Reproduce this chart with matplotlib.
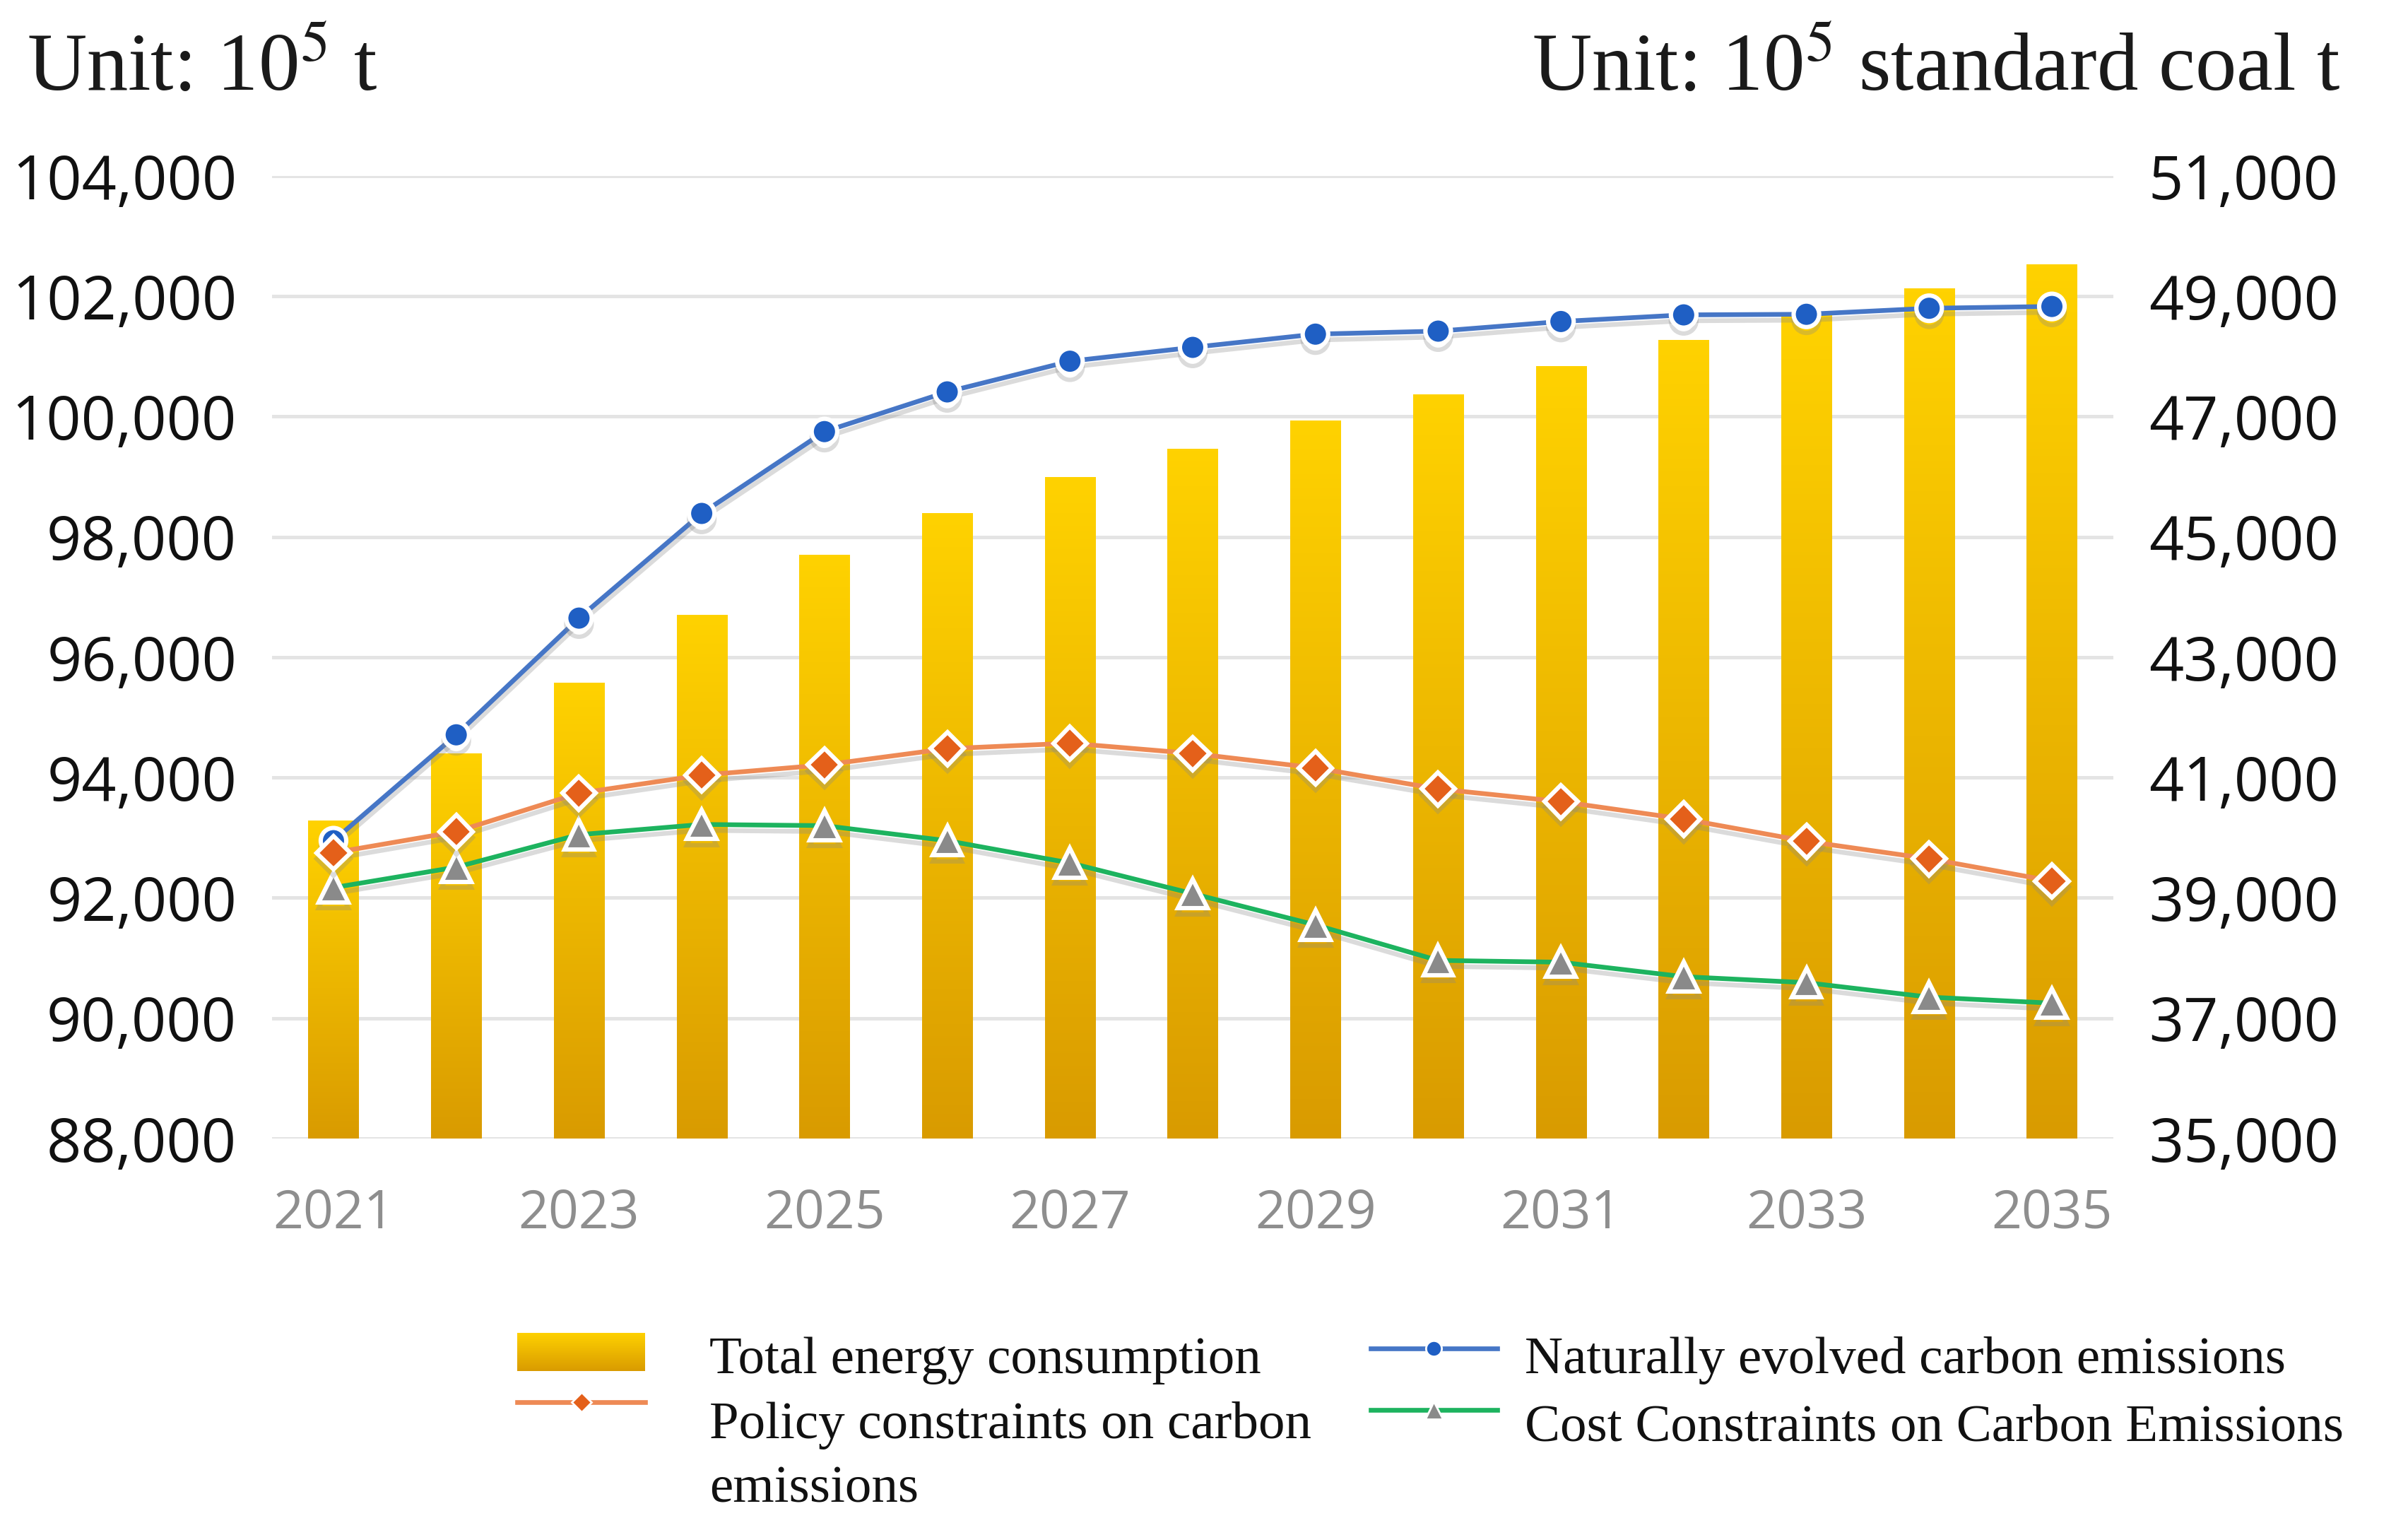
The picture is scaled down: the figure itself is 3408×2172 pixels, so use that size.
import matplotlib
matplotlib.use("Agg")
import matplotlib.pyplot as plt
import matplotlib.patheffects as pe
from matplotlib.colors import LinearSegmentedColormap
from matplotlib.lines import Line2D
import numpy as np

# data
years = list(range(2021, 2036))
energy = [40280, 41400, 42580, 43700, 44700, 45390, 45990, 46470,
          46930, 47370, 47840, 48270, 48700, 49130, 49530]      # right axis, 10^5 standard coal t
natural = [92950, 94710, 96650, 98390, 99750, 100410, 100920, 101150,
           101370, 101420, 101580, 101690, 101700, 101800, 101830]  # left axis, 10^5 t
policy = [92750, 93100, 93740, 94040, 94210, 94480, 94570, 94400,
          94160, 93810, 93600, 93310, 92940, 92650, 92280]
cost = [92170, 92510, 93050, 93220, 93200, 92950, 92580, 92070,
        91550, 90960, 90930, 90690, 90590, 90350, 90250]
right_ticks = list(range(35000, 51001, 2000))
left_ticks = list(range(88000, 104001, 2000))

plt.rcParams['mathtext.fontset'] = 'stix'
TICK_FONT = ['Open Sans', 'DejaVu Sans']
SERIF = ['Liberation Serif', 'DejaVu Serif']

fig = plt.figure(figsize=(17.04, 10.86), dpi=200)
ax = fig.add_axes([0.113, 0.2583, 0.7646, 0.6271])
ax2 = ax.twinx()

x = np.arange(len(years))

# bars with vertical gold gradient
gold = LinearSegmentedColormap.from_list('gold', ['#D99B00', '#FFD200'])
grad = np.linspace(0, 1, 256).reshape(-1, 1)
bars = ax.bar(x, energy, width=0.41, color='#F2BC00', zorder=2)
for b in bars:
    x0, w, h = b.get_x(), b.get_width(), b.get_height()
    im = ax.imshow(grad, extent=[x0, x0 + w, right_ticks[0], h], origin='lower',
                   aspect='auto', cmap=gold, zorder=3)
    im.set_clip_path(b)

ax.set_xlim(-0.5, len(years) - 0.5)
ax.set_ylim(right_ticks[0], right_ticks[-1])
ax.set_yticks(right_ticks)
ax.set_yticklabels([f'{v:,}' for v in right_ticks], family=TICK_FONT, fontsize=31, color='#111111')
ax.yaxis.tick_right()
ax.grid(axis='y', color='#E4E4E4', lw=1.8, zorder=0)
ax.set_axisbelow(True)
ax.tick_params(axis='y', length=0, pad=18)
ax.set_xticks(x[::2])
ax.set_xticklabels([str(y) for y in years[::2]], family=TICK_FONT, fontsize=27, color='#8E8E8E')
ax.tick_params(axis='x', length=0, pad=25)

# lines on the left axis
shadow = [pe.SimpleLineShadow(offset=(0, -3), shadow_color='#888888', alpha=0.3), pe.Normal()]
ax2.plot(x, natural, color='#4676C6', lw=2.4, marker='o', ms=13, mfc='#1F5FC4',
         mec='white', mew=2.2, path_effects=shadow, zorder=4)
ax2.plot(x, cost, color='#1DB35F', lw=2.4, marker='^', ms=15, mfc='#8A8A8A',
         mec='white', mew=2.2, path_effects=shadow, zorder=4)
ax2.plot(x, policy, color='#EE8A55', lw=2.4, marker='D', ms=12, mfc='#E4601A',
         mec='white', mew=2.2, path_effects=shadow, zorder=5)
ax2.set_ylim(left_ticks[0], left_ticks[-1])
ax2.set_yticks(left_ticks)
ax2.set_yticklabels([f'{v:,}' for v in left_ticks], family=TICK_FONT, fontsize=31, color='#111111')
ax2.yaxis.tick_left()
ax2.tick_params(axis='y', length=0, pad=18)

for a in (ax, ax2):
    for s in a.spines.values():
        s.set_visible(False)

# unit labels
fig.text(0.0111, 0.941, 'Unit: 10$^{5}$ t', family=SERIF, fontsize=42,
         color='#1A1A1A', va='baseline', ha='left')
fig.text(0.9718, 0.941, 'Unit: 10$^{5}$ standard coal t', family=SERIF, fontsize=42,
         color='#1A1A1A', va='baseline', ha='right')

# legend drawn by hand to follow the reference layout
lax = fig.add_axes([0.2148, 0.1068, 0.0531, 0.0249])
lax.imshow(grad, origin='lower', aspect='auto', cmap=gold, extent=[0, 1, 0, 1])
lax.axis('off')

def handle(x0, x1, y, color, marker, mfc, ms):
    fig.add_artist(Line2D([x0, x1], [y, y], transform=fig.transFigure, color=color, lw=2.4))
    fig.add_artist(Line2D([(x0 + x1) / 2], [y], transform=fig.transFigure, marker=marker,
                          ms=ms, mfc=mfc, mec='white', mew=1.0, lw=0))

handle(0.2148, 0.2679, 0.0866, '#EE8A55', 'D', '#E4601A', 7)
handle(0.5692, 0.6218, 0.1215, '#4676C6', 'o', '#1F5FC4', 8)
handle(0.5692, 0.6218, 0.0815, '#1DB35F', '^', '#8A8A8A', 9)

leg_kw = dict(family=SERIF, fontsize=27, color='#111111', va='center', ha='left')
fig.text(0.2946, 0.1137, 'Total energy consumption', **leg_kw)
fig.text(0.2946, 0.0714, 'Policy constraints on carbon', **leg_kw)
fig.text(0.2946, 0.0295, 'emissions', **leg_kw)
fig.text(0.6332, 0.1137, 'Naturally evolved carbon emissions', **leg_kw)
fig.text(0.6332, 0.0695, 'Cost Constraints on Carbon Emissions', **leg_kw)

fig.savefig('out.png', dpi=200, facecolor='white')
